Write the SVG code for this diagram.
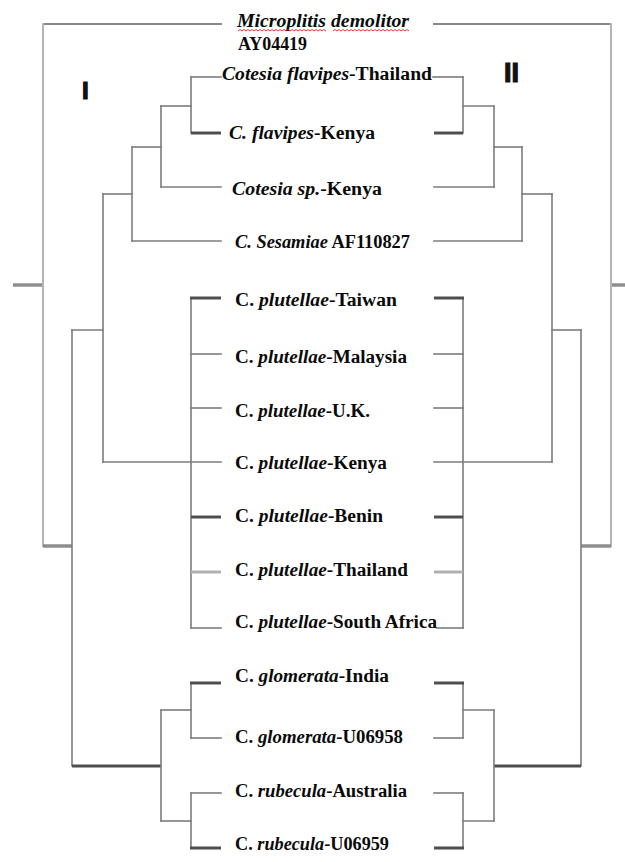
<svg xmlns="http://www.w3.org/2000/svg" width="625" height="862" viewBox="0 0 625 862">
<style>
  .lbl { font-family: "Liberation Serif", "Times New Roman", serif; font-weight: bold; font-size: 18px; fill: #0a0a0a; }
  .it { font-style: italic; }
  .num { font-family: "Liberation Sans", Arial, sans-serif; font-weight: bold; fill: #111; stroke: #111; stroke-width: 1.2; }
  .t { stroke: #7c7c7c; stroke-width: 1.6; fill: none; stroke-linecap: square; }
  .m { stroke: #8a8a8a; stroke-width: 2; fill: none; stroke-linecap: square; }
  .l { stroke: #b4b4b4; stroke-width: 2; fill: none; stroke-linecap: square; }
  .k { stroke: #4e4e4e; stroke-width: 3; fill: none; }
  .g { stroke: #8e8e8e; stroke-width: 3.5; fill: none; }
  .pl { stroke: #b0b0b0; stroke-width: 3; fill: none; }
  .wavy { stroke: #e02020; stroke-width: 0.9; fill: none; }
</style>
<rect width="625" height="862" fill="#ffffff"/>

<g id="connectors">
  <line class="m" x1="43" y1="24" x2="221" y2="24"/>
  <line class="m" x1="434" y1="24" x2="611" y2="24"/>
  <line class="l" x1="43" y1="24" x2="43" y2="546"/>
  <line class="l" x1="611" y1="24" x2="611" y2="546"/>
  <line class="g" x1="13" y1="285" x2="42" y2="285"/>
  <line class="g" x1="612" y1="285" x2="625" y2="285"/>
  <line class="g" x1="43" y1="546" x2="72" y2="546"/>
  <line class="g" x1="581" y1="546" x2="611" y2="546"/>

  <line class="t" x1="72" y1="330" x2="72" y2="766"/>
  <line class="t" x1="581" y1="330" x2="581" y2="766"/>
  <line class="t" x1="72" y1="330" x2="103" y2="330"/>
  <line class="t" x1="552" y1="330" x2="581" y2="330"/>

  <line class="t" x1="103" y1="194" x2="103" y2="462"/>
  <line class="t" x1="552" y1="194" x2="552" y2="462"/>
  <line class="t" x1="103" y1="462" x2="221" y2="462"/>
  <line class="t" x1="434" y1="462" x2="552" y2="462"/>
  <line class="t" x1="103" y1="194" x2="132" y2="194"/>
  <line class="t" x1="522" y1="194" x2="552" y2="194"/>

  <line class="t" x1="132" y1="147" x2="132" y2="241"/>
  <line class="t" x1="522" y1="147" x2="522" y2="241"/>
  <line class="t" x1="132" y1="241" x2="221" y2="241"/>
  <line class="t" x1="434" y1="241" x2="522" y2="241"/>
  <line class="t" x1="132" y1="147" x2="161" y2="147"/>
  <line class="t" x1="494" y1="147" x2="522" y2="147"/>

  <line class="t" x1="161" y1="106" x2="161" y2="187"/>
  <line class="t" x1="494" y1="106" x2="494" y2="187"/>
  <line class="t" x1="161" y1="187" x2="221" y2="187"/>
  <line class="t" x1="434" y1="187" x2="494" y2="187"/>
  <line class="t" x1="161" y1="106" x2="191" y2="106"/>
  <line class="t" x1="463" y1="106" x2="494" y2="106"/>

  <line class="t" x1="191" y1="77" x2="191" y2="133"/>
  <line class="t" x1="463" y1="77" x2="463" y2="133"/>
  <line class="t" x1="191" y1="77" x2="221" y2="77"/>
  <line class="t" x1="433" y1="77" x2="463" y2="77"/>
  <line class="k" x1="191" y1="133" x2="221" y2="133"/>
  <line class="k" x1="434" y1="133" x2="463" y2="133"/>

  <line class="t" x1="191" y1="298" x2="191" y2="628"/>
  <line class="t" x1="463" y1="298" x2="463" y2="628"/>
  <line class="k" x1="190" y1="298" x2="221" y2="298"/>
  <line class="k" x1="434" y1="298" x2="464" y2="298"/>
  <line class="t" x1="191" y1="354" x2="221" y2="354"/>
  <line class="t" x1="434" y1="354" x2="463" y2="354"/>
  <line class="t" x1="191" y1="408" x2="221" y2="408"/>
  <line class="t" x1="434" y1="408" x2="463" y2="408"/>
  <line class="k" x1="191" y1="517" x2="221" y2="517"/>
  <line class="k" x1="434" y1="517" x2="463" y2="517"/>
  <line class="pl" x1="191" y1="572" x2="221" y2="572"/>
  <line class="pl" x1="434" y1="572" x2="463" y2="572"/>
  <line class="t" x1="191" y1="628" x2="221" y2="628"/>
  <line class="t" x1="437" y1="628" x2="463" y2="628"/>

  <line class="k" x1="72" y1="766" x2="161" y2="766"/>
  <line class="k" x1="494" y1="766" x2="581" y2="766"/>
  <line class="t" x1="161" y1="710" x2="161" y2="821"/>
  <line class="t" x1="494" y1="710" x2="494" y2="821"/>
  <line class="t" x1="161" y1="710" x2="191" y2="710"/>
  <line class="t" x1="463" y1="710" x2="494" y2="710"/>
  <line class="t" x1="161" y1="821" x2="191" y2="821"/>
  <line class="t" x1="463" y1="821" x2="494" y2="821"/>

  <line class="t" x1="191" y1="683" x2="191" y2="738"/>
  <line class="t" x1="463" y1="683" x2="463" y2="738"/>
  <line class="k" x1="190" y1="683" x2="221" y2="683"/>
  <line class="k" x1="434" y1="683" x2="464" y2="683"/>
  <line class="t" x1="191" y1="738" x2="221" y2="738"/>
  <line class="t" x1="434" y1="738" x2="463" y2="738"/>

  <line class="t" x1="191" y1="793" x2="191" y2="848"/>
  <line class="t" x1="463" y1="793" x2="463" y2="848"/>
  <line class="t" x1="191" y1="793" x2="221" y2="793"/>
  <line class="t" x1="434" y1="793" x2="463" y2="793"/>
  <line class="k" x1="190" y1="848" x2="221" y2="848"/>
  <line class="k" x1="434" y1="848" x2="464" y2="848"/>
</g>

<g id="clade-labels">
  <text id="label-I" class="num" x="82" y="99" font-size="24">I</text>
  <text id="label-II" class="num" x="504" y="82" font-size="27">II</text>
</g>

<g id="node-microplitis">
  <text class="lbl" x="237" y="27" textLength="172" lengthAdjust="spacingAndGlyphs"><tspan class="it">Microplitis demolitor</tspan></text>
  <path class="wavy" d="M238 31 l2 -1.5 l2 1.5 l2 -1.5 l2 1.5 l2 -1.5 l2 1.5 l2 -1.5 l2 1.5 l2 -1.5 l2 1.5 l2 -1.5 l2 1.5 l2 -1.5 l2 1.5 l2 -1.5 l2 1.5 l2 -1.5 l2 1.5 l2 -1.5 l2 1.5 l2 -1.5 l2 1.5 l2 -1.5 l2 1.5 l2 -1.5 l2 1.5 l2 -1.5 l2 1.5 l2 -1.5 l2 1.5 l2 -1.5 l2 1.5 l2 -1.5 l2 1.5 l2 -1.5 l2 1.5 l2 -1.5 l2 1.5 l2 -1.5 l2 1.5 l2 -1.5 l2 1.5 l2 -1.5 l2 1.5"/>
  <path class="wavy" d="M333 31 l2 -1.5 l2 1.5 l2 -1.5 l2 1.5 l2 -1.5 l2 1.5 l2 -1.5 l2 1.5 l2 -1.5 l2 1.5 l2 -1.5 l2 1.5 l2 -1.5 l2 1.5 l2 -1.5 l2 1.5 l2 -1.5 l2 1.5 l2 -1.5 l2 1.5 l2 -1.5 l2 1.5 l2 -1.5 l2 1.5 l2 -1.5 l2 1.5 l2 -1.5 l2 1.5 l2 -1.5 l2 1.5 l2 -1.5 l2 1.5 l2 -1.5 l2 1.5 l2 -1.5 l2 1.5 l2 -1.5 l2 1.5"/>
  <text class="lbl" x="238" y="50" textLength="69" lengthAdjust="spacingAndGlyphs">AY04419</text>
</g>

<g id="node-cflavipes-thailand">
  <text class="lbl" x="222" y="80" textLength="210" lengthAdjust="spacingAndGlyphs"><tspan class="it">Cotesia flavipes</tspan>-Thailand</text>
</g>
<g id="node-cflavipes-kenya">
  <text class="lbl" x="229" y="139" textLength="146" lengthAdjust="spacingAndGlyphs"><tspan class="it">C. flavipes</tspan>-Kenya</text>
</g>
<g id="node-cotesia-sp-kenya">
  <text class="lbl" x="232" y="195" textLength="150" lengthAdjust="spacingAndGlyphs"><tspan class="it">Cotesia sp.</tspan>-Kenya</text>
</g>
<g id="node-csesamiae">
  <text class="lbl" x="235" y="248" textLength="175" lengthAdjust="spacingAndGlyphs"><tspan class="it">C. Sesamiae</tspan> AF110827</text>
</g>

<g id="node-cplutellae-taiwan">
  <text class="lbl" x="235" y="306" textLength="162" lengthAdjust="spacingAndGlyphs">C. <tspan class="it">plutellae</tspan>-Taiwan</text>
</g>
<g id="node-cplutellae-malaysia">
  <text class="lbl" x="235" y="363" textLength="172" lengthAdjust="spacingAndGlyphs">C. <tspan class="it">plutellae</tspan>-Malaysia</text>
</g>
<g id="node-cplutellae-uk">
  <text class="lbl" x="235" y="417" textLength="135" lengthAdjust="spacingAndGlyphs">C. <tspan class="it">plutellae</tspan>-U.K.</text>
</g>
<g id="node-cplutellae-kenya">
  <text class="lbl" x="235" y="469" textLength="152" lengthAdjust="spacingAndGlyphs">C. <tspan class="it">plutellae</tspan>-Kenya</text>
</g>
<g id="node-cplutellae-benin">
  <text class="lbl" x="235" y="522" textLength="148" lengthAdjust="spacingAndGlyphs">C. <tspan class="it">plutellae</tspan>-Benin</text>
</g>
<g id="node-cplutellae-thailand">
  <text class="lbl" x="235" y="576" textLength="173" lengthAdjust="spacingAndGlyphs">C. <tspan class="it">plutellae</tspan>-Thailand</text>
</g>
<g id="node-cplutellae-southafrica">
  <text class="lbl" x="235" y="628" textLength="202" lengthAdjust="spacingAndGlyphs">C. <tspan class="it">plutellae</tspan>-South Africa</text>
</g>

<g id="node-cglomerata-india">
  <text class="lbl" x="235" y="682" textLength="154" lengthAdjust="spacingAndGlyphs">C. <tspan class="it">glomerata</tspan>-India</text>
</g>
<g id="node-cglomerata-u06958">
  <text class="lbl" x="235" y="743" textLength="168" lengthAdjust="spacingAndGlyphs">C. <tspan class="it">glomerata</tspan>-U06958</text>
</g>
<g id="node-crubecula-australia">
  <text class="lbl" x="235" y="797" textLength="172" lengthAdjust="spacingAndGlyphs">C. <tspan class="it">rubecula</tspan>-Australia</text>
</g>
<g id="node-crubecula-u06959">
  <text class="lbl" x="235" y="850" textLength="154" lengthAdjust="spacingAndGlyphs">C. <tspan class="it">rubecula</tspan>-U06959</text>
</g>
</svg>
